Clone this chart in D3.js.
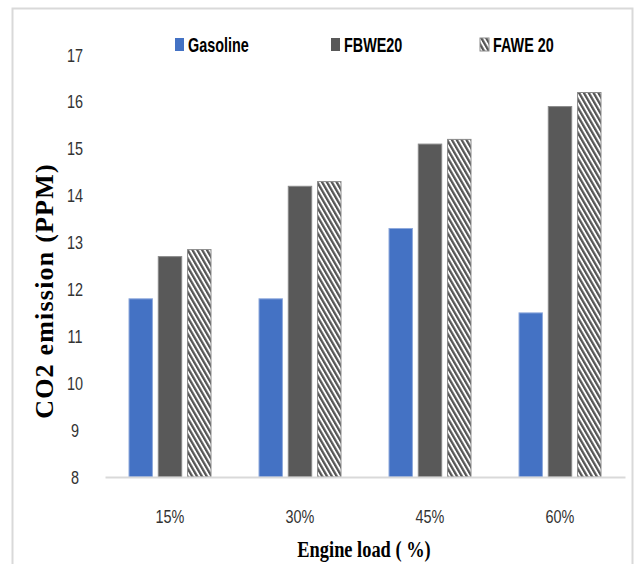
<!DOCTYPE html>
<html><head><meta charset="utf-8">
<script src="https://cdn.jsdelivr.net/npm/d3@7"></script>
<style>html,body{margin:0;padding:0;background:#fff;}</style>
</head><body>
<svg id="chart" width="635" height="564"></svg>
<script>
const categories = ["15%", "30%", "45%", "60%"];
const seriesNames = ["Gasoline", "FBWE20", "FAWE 20"];
const gasoline = [11.8, 11.8, 13.3, 11.5];
const fbwe20 = [12.7, 14.2, 15.1, 15.9];
const fawe20 = [12.85, 14.3, 15.2, 16.2];
const yTicks = [8, 9, 10, 11, 12, 13, 14, 15, 16, 17];

const seriesValues = [gasoline, fbwe20, fawe20];
const svg = d3.select("#chart");
const narrow = "'Liberation Sans Narrow', 'Arial Narrow', 'Liberation Sans', Arial, sans-serif";

// hatch pattern
const defs = svg.append("defs");
const pat = defs.append("pattern").attr("id", "hatch").attr("patternUnits", "userSpaceOnUse")
  .attr("width", 4.2).attr("height", 4.2).attr("patternTransform", "rotate(-30)");
pat.append("rect").attr("width", 4.2).attr("height", 4.2).attr("fill", "#fff");
pat.append("rect").attr("width", 2.3).attr("height", 4.2).attr("fill", "#555");

const fills = ["#4472C4", "#595959", "url(#hatch)"];
const strokes = ["#8fa9dc", "#8a8a8a", "#8a8a8a"];

// frame
svg.append("rect").attr("x", 12.5).attr("y", 8.5).attr("width", 620).attr("height", 570)
  .attr("fill", "none").attr("stroke", "#d9d9d9").attr("stroke-width", 2);

const x0 = d3.scaleBand().domain(categories).range([105, 625]).padding(0);
const x1 = d3.scaleBand().domain(seriesNames).range([24, 106]).paddingInner(0.2);
const y = d3.scaleLinear().domain([8, 17]).range([477, 55]);

// y axis labels
const yAxis = d3.axisLeft(y).tickValues(yTicks).tickSize(0).tickPadding(0).tickFormat(d3.format("d"));
const ya = svg.append("g").attr("transform", "translate(75,0)").call(yAxis);
ya.select(".domain").remove();
ya.selectAll("text").attr("font-family", narrow)
  .attr("font-size", 19).attr("fill", "#333").attr("text-anchor", "middle")
  .attr("x", 0).attr("transform", "scale(0.76,1)");

// bars
const groups = svg.append("g").selectAll("g").data(categories).join("g")
  .attr("transform", d => `translate(${x0(d)},0)`);
groups.selectAll("rect").data((c, i) => seriesNames.map((s, j) => ({s, j, v: seriesValues[j][i]})))
  .join("rect")
  .attr("x", d => x1(d.s))
  .attr("width", x1.bandwidth())
  .attr("y", d => y(d.v))
  .attr("height", d => y(8) - y(d.v))
  .attr("fill", d => fills[d.j])
  .attr("stroke", d => strokes[d.j])
  .attr("stroke-width", 1);

// baseline / x axis
const xAxis = d3.axisBottom(x0).tickSize(0).tickPadding(0);
const xa = svg.append("g").attr("transform", `translate(0,${y(8)})`).call(xAxis);
xa.select(".domain").attr("stroke", "#d9d9d9").attr("stroke-width", 2);
xa.selectAll("text").attr("font-family", narrow)
  .attr("font-size", 19).attr("fill", "#333").attr("dy", 0).attr("y", 46)
  .attr("transform", "scale(0.76,1)");

// axis titles
svg.append("text").attr("transform", "translate(53,291) rotate(-90)")
  .attr("text-anchor", "middle").attr("font-family", "'Liberation Serif', 'Times New Roman', serif")
  .attr("font-weight", "bold").attr("font-size", 26).attr("fill", "#000")
  .attr("letter-spacing", 1.2)
  .text("CO2 emission (PPM)");
svg.append("text")
  .attr("text-anchor", "middle").attr("font-family", "'Liberation Serif', 'Times New Roman', serif")
  .attr("font-weight", "bold").attr("font-size", 23).attr("fill", "#000")
  .attr("transform", "translate(364,557) scale(0.8,1)")
  .text("Engine load ( %)");

// legend
const legendX = [175, 331, 480];
const lg = svg.append("g").selectAll("g").data(seriesNames).join("g")
  .attr("transform", (d, i) => `translate(${legendX[i]},38)`);
lg.append("rect").attr("width", 9).attr("height", 13)
  .attr("fill", (d, i) => i === 2 ? "url(#hatch)" : fills[i])
  .attr("stroke", (d, i) => i === 2 ? "#8a8a8a" : "none");
lg.append("text")
  .attr("transform", "translate(13,14) scale(0.72,1)")
  .attr("font-family", narrow)
  .attr("font-weight", "bold").attr("font-size", 20).attr("fill", "#000")
  .text(d => d);
</script>
</body></html>
